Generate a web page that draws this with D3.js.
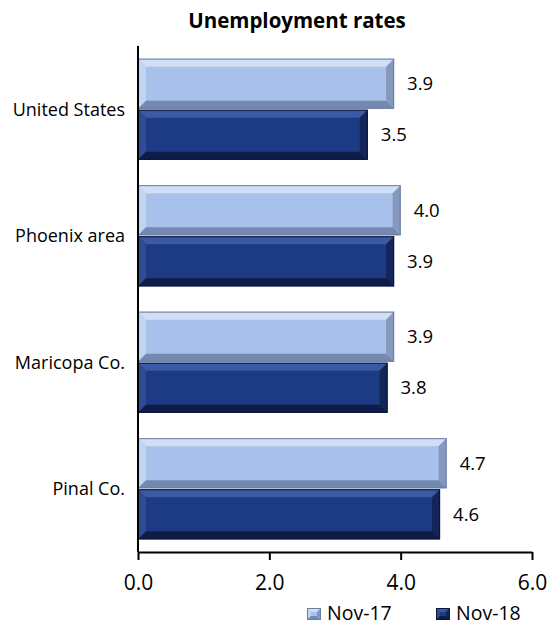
<!DOCTYPE html>
<html><head><meta charset="utf-8">
<script src="https://cdn.jsdelivr.net/npm/d3@7"></script>
<style>body{margin:0;background:#fff}svg{display:block}text{font-family:"Open Sans",sans-serif;fill:#000}</style>
</head><body>
<svg id="c" width="549" height="628"></svg>
<script>
const categories = ["United States", "Phoenix area", "Maricopa Co.", "Pinal Co."];
const seriesNames = ["Nov-17", "Nov-18"];
const nov17 = [3.9, 4.0, 3.9, 4.7];
const nov18 = [3.5, 3.9, 3.8, 4.6];
const xTicks = [0, 2, 4, 6];
const title = "Unemployment rates";

const pal = {
  "Nov-17": {face:"#a8c1ea", top:"#d2def4", left:"#c3d4f0", bottom:"#7389b0", right:"#8598be", edge:"#6d7f9f"},
  "Nov-18": {face:"#1d3a85", top:"#3c5aa3", left:"#2f4b95", bottom:"#0e1c48", right:"#132559", edge:"#0b1638"}
};

const svg = d3.select("#c");
const m = {l:138, r:532, t:46, b:552};
const x = d3.scaleLinear().domain([0,6]).range([m.l, m.r]);
const y = d3.scaleBand().domain(categories).range([m.t, m.b]).paddingInner(0.2).paddingOuter(0.1);
const ys = d3.scaleBand().domain(seriesNames).range([0, y.bandwidth()]).paddingInner(0.02);

svg.append("text").attr("x", 297).attr("y", 28).attr("text-anchor","middle")
  .style("font-weight","bold").style("font-size","20.5px").text(title);

const rows = [];
categories.forEach((c,i)=>{
  rows.push({cat:c, s:"Nov-17", v:nov17[i]});
  rows.push({cat:c, s:"Nov-18", v:nov18[i]});
});

function bevel(g, x0, x1, y0, y1, p, bw){
  const b = Math.min(bw, (y1-y0)/3);
  g.append("rect").attr("x",x0).attr("y",y0).attr("width",x1-x0).attr("height",y1-y0).attr("fill",p.face);
  const poly = (pts, f) => g.append("polygon").attr("points", pts.map(q=>q.join(",")).join(" ")).attr("fill", f);
  poly([[x0,y0],[x1,y0],[x1-b,y0+b],[x0+b,y0+b]], p.top);
  poly([[x0,y0],[x0+b,y0+b],[x0+b,y1-b],[x0,y1]], p.left);
  poly([[x0,y1],[x0+b,y1-b],[x1-b,y1-b],[x1,y1]], p.bottom);
  poly([[x1,y0],[x1,y1],[x1-b,y1-b],[x1-b,y0+b]], p.right);
  g.append("rect").attr("x",x0+0.5).attr("y",y0+0.5).attr("width",x1-x0-1).attr("height",y1-y0-1)
    .attr("fill","none").attr("stroke",p.edge).attr("stroke-width",1);
}

const gb = svg.append("g");
rows.forEach(r=>{
  const y0 = y(r.cat) + ys(r.s), y1 = y0 + ys.bandwidth();
  const g = gb.append("g");
  bevel(g, x(0), x(r.v), y0, y1, pal[r.s], 8);
  svg.append("text").attr("x", x(r.v)+13).attr("y", (y0+y1)/2).attr("dy","0.36em")
    .style("font-size","18.5px").text(r.v.toFixed(1));
});

// category labels
svg.append("g").selectAll("text").data(categories).join("text")
  .attr("x", 125).attr("y", d=>y(d)+y.bandwidth()/2).attr("dy","0.36em")
  .attr("text-anchor","end").style("font-size","18px").text(d=>d);

// y axis line
svg.append("line").attr("x1",m.l).attr("x2",m.l).attr("y1",m.t).attr("y2",m.b).attr("stroke","#000").attr("stroke-width",2);

// x axis
const xa = svg.append("g").attr("transform",`translate(0,${m.b})`)
  .call(d3.axisBottom(x).tickValues(xTicks).tickFormat(d3.format(".1f")).tickSize(8).tickSizeOuter(0));
xa.select(".domain").attr("stroke","#000").attr("stroke-width",2);
xa.selectAll(".tick line").attr("stroke","#000").attr("stroke-width",2);
xa.selectAll(".tick text").style("font-size","21px").style("font-family","'Open Sans',sans-serif")
  .attr("y",38).attr("dy",null);

// legend
const leg = svg.append("g");
const lx = [307, 436];
seriesNames.forEach((s,i)=>{
  const g = leg.append("g");
  bevel(g, lx[i], lx[i]+14, 608, 620, pal[s], 4);
  leg.append("text").attr("x", lx[i]+20).attr("y", 620).style("font-size","19.5px").text(s);
});
</script>
</body></html>
